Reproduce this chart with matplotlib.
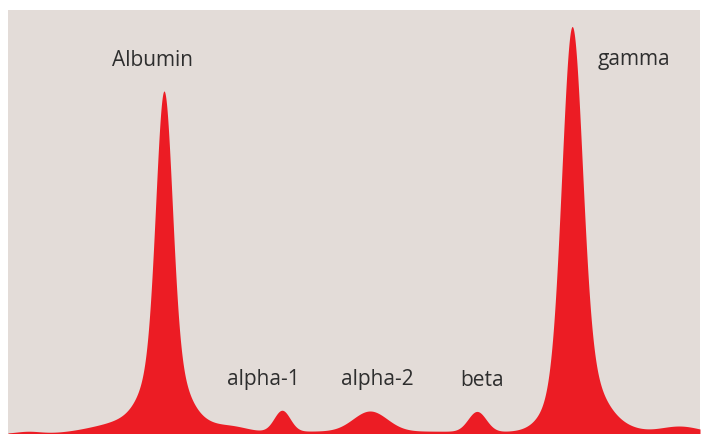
import numpy as np
import matplotlib
matplotlib.use("Agg")
import matplotlib.pyplot as plt

# Component parameters (x in panel units, height in panel units)
fractions = ["Albumin", "alpha-1", "alpha-2", "beta", "gamma"]
centers = [156, 274, 362, 469, 564]
heights = [251, 21, 20, 20, 329]
widths = [8, 8, 17, 9, 10]
# broad skirts under the two main peaks and small baseline humps
skirt_centers = [156, 156, 566, 580, 95, 225, 672, 20, 360]
skirt_heights = [60, 30, 60, 20, 5, 4, 7, 2, 3]
skirt_widths = [16, 30, 20, 28, 25, 15, 20, 12, 200]

label_x = [144, 255, 369, 474, 626]
label_y = [374, 54, 54, 54, 374]

bg = "#e3dcd8"
red = "#ec1c24"

fig = plt.figure(figsize=(7.02, 4.34), dpi=100)
fig.patch.set_facecolor("white")
ax = fig.add_axes([8 / 702, 0, 692 / 702, 424 / 434])
ax.set_facecolor(bg)

x = np.linspace(0, 692, 2000)
y = np.zeros_like(x)
for c, h, w in zip(centers + skirt_centers, heights + skirt_heights, widths + skirt_widths):
    y += h * np.exp(-0.5 * ((x - c) / w) ** 2)

ax.fill_between(x, 0, y, color=red, lw=0)
ax.set_xlim(0, 692)
ax.set_ylim(0, 424)
for s in ax.spines.values():
    s.set_visible(False)
ax.set_xticks([])
ax.set_yticks([])

for name, lx, ly in zip(fractions, label_x, label_y):
    ax.text(lx, ly, name, ha="center", va="center", fontsize=15,
            family=["Open Sans", "DejaVu Sans"], color="#2e2e2e")

fig.savefig("out.png", dpi=100, facecolor=fig.get_facecolor())
